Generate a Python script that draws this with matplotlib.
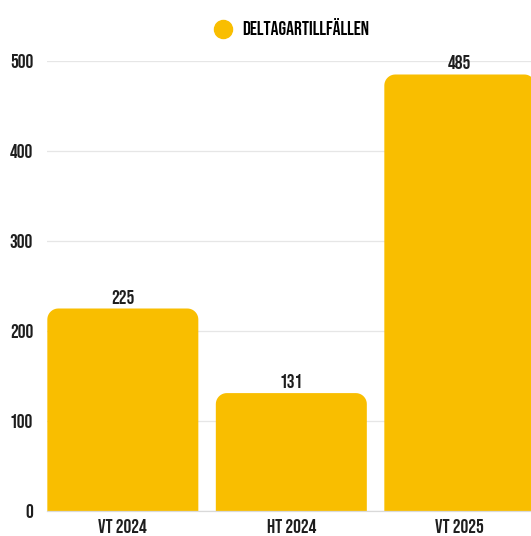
import numpy as np
import matplotlib
matplotlib.use("Agg")
import matplotlib.pyplot as plt
from matplotlib.patches import Polygon
from matplotlib.lines import Line2D

plt.rcParams['font.family'] = ['Bebas Neue', 'Roboto Condensed', 'DejaVu Sans']

categories = ["VT 2024", "HT 2024", "VT 2025"]
values = [225, 131, 485]
series_name = "DELTAGARTILLFÄLLEN"
y_ticks = [0, 100, 200, 300, 400, 500]

BAR = "#F9BE00"
TXT = "#1e1e1e"
FS = 14

fig = plt.figure(figsize=(5.31, 5.36), dpi=100)
# axes in pixels: left 47, right runs past the figure edge, bottom 511, top 61
W, H = 531, 536
step = 168.5  # pixels per category
ax = fig.add_axes([47 / W, (H - 511) / H, 2.9 * step / W, 450 / H])

x = list(range(len(categories)))
width = 151 / step
bars = ax.bar(x, values, width=width, color=BAR)

# swap plain bars for ones with rounded top corners only
xpp = 1 / step     # data x per pixel
ypp = 500 / 450.0  # data y per pixel
r_px = 11
rx, ry = r_px * xpp, r_px * ypp
t = np.linspace(0, np.pi / 2, 12)
for b in bars:
    bx, bw, bh = b.get_x(), b.get_width(), b.get_height()
    b.set_visible(False)
    x0, x1 = bx, bx + bw
    left = np.column_stack([x0 + rx - rx * np.cos(t), bh - ry + ry * np.sin(t)])
    right = np.column_stack([x1 - rx + rx * np.sin(t), bh - ry + ry * np.cos(t)])
    pts = np.vstack([[x0, 0], left, right, [x1, 0]])
    ax.add_patch(Polygon(pts, closed=True, fc=BAR, ec="none", zorder=2))
    ax.text(bx + bw / 2, bh + 5 * ypp, str(int(bh)), ha="center", va="bottom",
            fontsize=FS, color=TXT, zorder=3, clip_on=False)

ax.set_xlim(-0.45, 2.45)
ax.set_ylim(0, 500)
ax.set_yticks(y_ticks)
ax.set_xticks(x)
ax.set_xticklabels(categories)
ax.tick_params(axis="both", length=0, labelsize=FS, labelcolor=TXT)
ax.tick_params(axis="y", pad=10)
ax.tick_params(axis="x", pad=6)
ax.grid(axis="y", color="#e6e6e6", linewidth=0.9, zorder=0)
ax.set_axisbelow(True)
for s in ["top", "right", "left"]:
    ax.spines[s].set_visible(False)
ax.spines["bottom"].set_color("#d9d9d9")
ax.spines["bottom"].set_linewidth(0.9)

handle = Line2D([], [], marker="o", linestyle="none", markersize=13,
                markerfacecolor=BAR, markeredgecolor=BAR)
fig.legend([handle], [series_name], loc="center", bbox_to_anchor=(290 / W, (H - 27) / H),
           frameon=False, handletextpad=0.4, handlelength=1.2,
           prop={"family": "Bebas Neue", "size": FS})

fig.savefig("out.png", dpi=100)
